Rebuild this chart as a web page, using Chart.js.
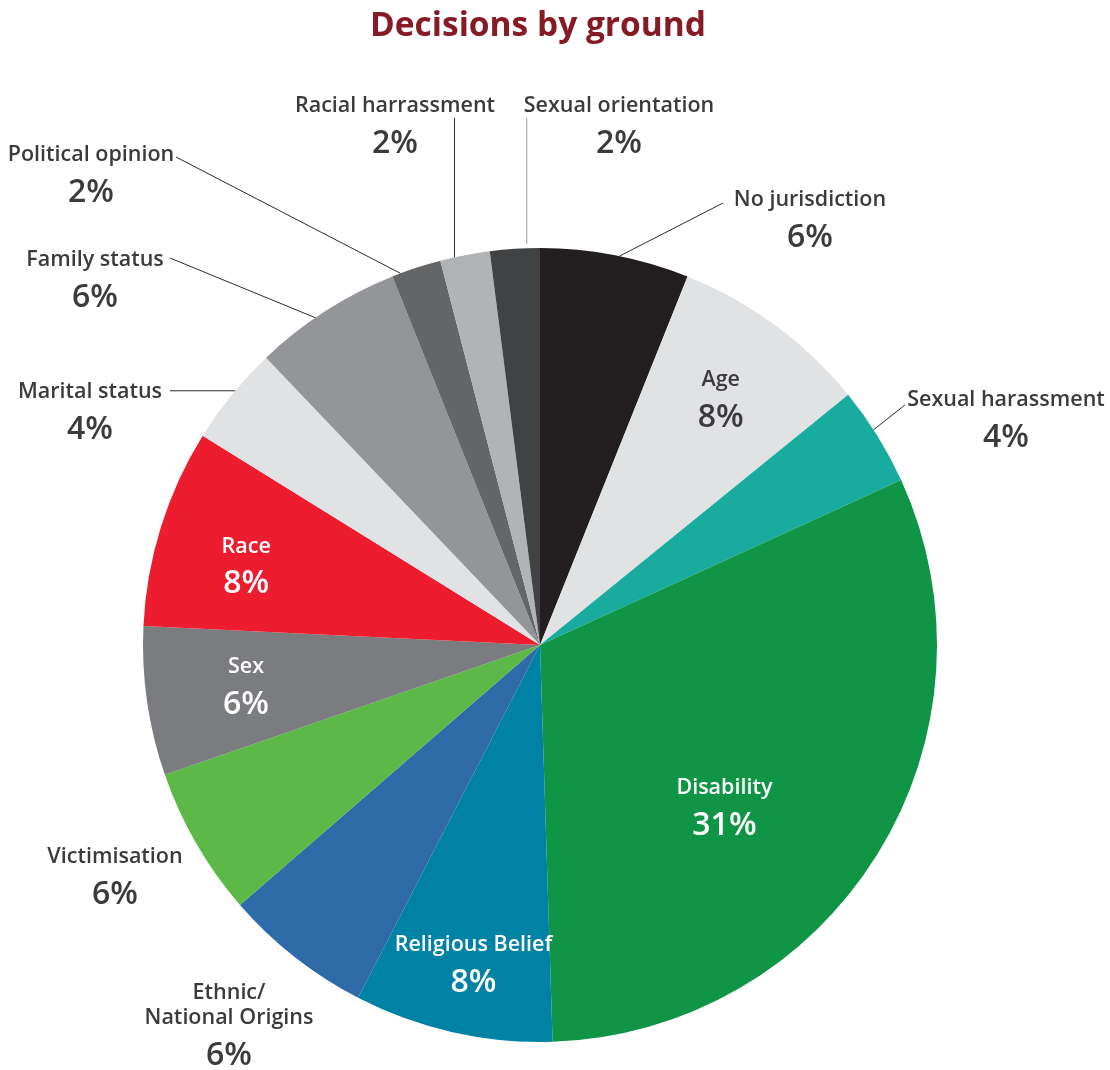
<!DOCTYPE html>
<html>
<head>
<meta charset="utf-8">
<title>Decisions by ground</title>
<script src="https://cdn.jsdelivr.net/npm/chart.js@4.4.1/dist/chart.umd.min.js"></script>
<style>
  html, body { margin: 0; background: #fff; }
</style>
</head>
<body>
<canvas id="grounds-chart" width="1110" height="1070"></canvas>
<script>
// Share of decisions per ground, clockwise from 12 o'clock
const grounds = [
  'No jurisdiction', 'Age', 'Sexual harassment', 'Disability', 'Religious Belief',
  ['Ethnic/', 'National Origins'], 'Victimisation', 'Sex', 'Race', 'Marital status',
  'Family status', 'Political opinion', 'Racial harrassment', 'Sexual orientation'
];
const shares = [6, 8, 4, 31, 8, 6, 6, 6, 8, 4, 6, 2, 2, 2];
const sliceColors = [
  '#231f20', '#e1e2e3', '#18ab9e', '#109546', '#0082a5',
  '#2f6ba9', '#5cb947', '#7b7c7f', '#ed1c2e', '#e1e2e3',
  '#939598', '#646567', '#b1b3b6', '#414244'
];

const TEXT = '#3b3b3d';

// Where each label sits. Inside labels: position along the slice (at) and
// fraction of the radius (r). Outside labels: text centre plus a leader line
// from a point on the slice edge (at) out to `to` (null = keep same x / y).
const labelLayout = [
  { x: 810, y: 198, at: 0.53, to: { x: 723, y: 203 } },
  { inside: true, at: 0.49, r: 0.773, color: TEXT },
  { x: 1006, y: 398, at: 0.43, to: { x: 905, y: 405 } },
  { inside: true, at: 0.58, r: 0.614, color: '#fff' },
  { inside: true, at: 0.47, r: 0.816, color: '#fff' },
  { x: 229, y: 991 },
  { x: 115, y: 855 },
  { inside: true, at: 0.53, r: 0.747, color: '#fff' },
  { inside: true, at: 0.44, r: 0.768, color: '#fff' },
  { x: 90, y: 390, at: 0.55, to: { x: 170, y: null } },
  { x: 95, y: 258, at: 0.42, to: { x: 170, y: 258 } },
  { x: 91, y: 153, at: 0.17, to: { x: 176, y: 157 } },
  { x: 395, y: 104, at: 0.29, to: { x: null, y: 118 } },
  { x: 619, y: 104, at: 0.74, gap: 4, to: { x: null, y: 118 }, lineColor: '#9a9b9d' }
];

const FONT = "'Open Sans', 'Noto Sans', sans-serif";

function drawBlock(ctx, name, pct, cx, cy, color, inside) {
  const lines = Array.isArray(name) ? name : [name];
  ctx.fillStyle = color;
  ctx.textAlign = 'center';
  ctx.textBaseline = 'middle';
  // inside labels are given by block centre, outside ones by first line centre
  let y = (inside ? cy - 19 : cy) + 2;
  ctx.font = `600 21.5px ${FONT}`;
  lines.forEach((l, i) => ctx.fillText(l, cx, y + i * 25));
  y += (lines.length - 1) * 25 + 38;
  ctx.font = `600 32px ${FONT}`;
  ctx.fillText(pct, cx, y);
}

const groundLabels = {
  id: 'groundLabels',
  afterDatasetsDraw(chart) {
    const ctx = chart.ctx;
    const arcs = chart.getDatasetMeta(0).data;
    ctx.save();

    // title
    ctx.fillStyle = '#861b26';
    ctx.font = `700 33.5px ${FONT}`;
    ctx.textAlign = 'center';
    ctx.textBaseline = 'middle';
    ctx.fillText('Decisions by ground', 538, 26);

    arcs.forEach((arc, i) => {
      const lay = labelLayout[i];
      const { x, y, startAngle, endAngle, outerRadius } =
        arc.getProps(['x', 'y', 'startAngle', 'endAngle', 'outerRadius'], true);
      const pct = shares[i] + '%';
      const a = startAngle + (endAngle - startAngle) * (lay.at ?? 0.5);

      if (lay.inside) {
        const r = outerRadius * lay.r;
        drawBlock(ctx, grounds[i], pct, x + Math.cos(a) * r, y + Math.sin(a) * r, lay.color, true);
        return;
      }

      if (lay.to) {
        const r = outerRadius + (lay.gap || 0);
        const ex = x + Math.cos(a) * r;
        const ey = y + Math.sin(a) * r;
        ctx.beginPath();
        ctx.moveTo(ex, ey);
        ctx.lineTo(lay.to.x ?? ex, lay.to.y ?? ey);
        ctx.strokeStyle = lay.lineColor || '#2b2b2d';
        ctx.lineWidth = 1;
        ctx.stroke();
      }
      drawBlock(ctx, grounds[i], pct, lay.x, lay.y, TEXT, false);
    });
    ctx.restore();
  }
};

new Chart(document.getElementById('grounds-chart'), {
  type: 'pie',
  data: {
    labels: grounds,
    datasets: [{
      data: shares,
      backgroundColor: sliceColors,
      borderWidth: 0,
      hoverOffset: 0,
      offset: 0
    }]
  },
  options: {
    responsive: false,
    animation: false,
    layout: { padding: { left: 143, right: 173, top: 248, bottom: 28 } },
    plugins: {
      legend: { display: false },
      tooltip: { enabled: false },
      title: { display: false }
    }
  },
  plugins: [groundLabels]
});
</script>
</body>
</html>
